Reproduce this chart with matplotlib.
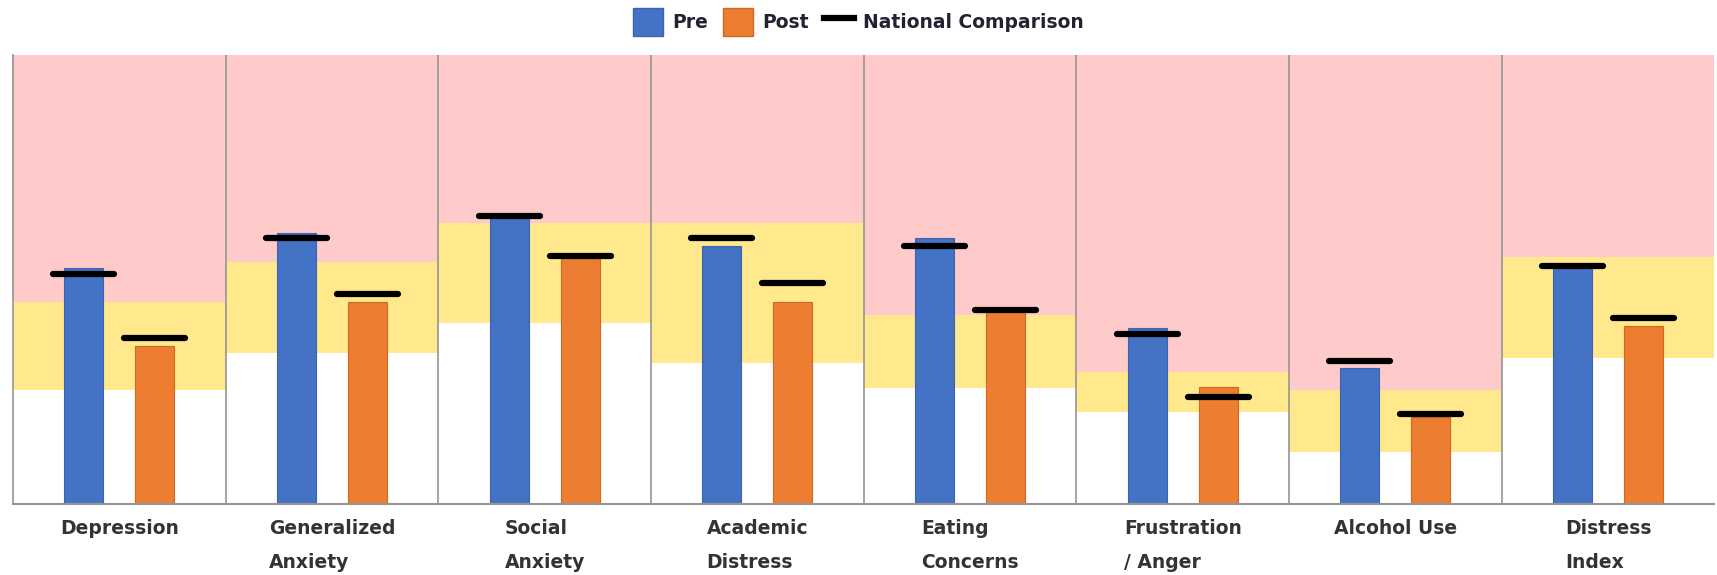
import matplotlib.pyplot as plt
import numpy as np
from matplotlib.patches import Patch
from matplotlib.lines import Line2D

# categories and values (0-100 scale)
categories = ['Depression', 'Generalized\nAnxiety', 'Social\nAnxiety', 'Academic\nDistress',
              'Eating\nConcerns', 'Frustration\n/ Anger', 'Alcohol Use', 'Distress\nIndex']
pre = [52.6, 60.3, 63.6, 57.4, 59.3, 39.3, 30.2, 52.6]
post = [35.3, 45.1, 54.9, 44.9, 42.7, 26.1, 19.4, 39.6]
national_pre = [51.2, 59.2, 64.2, 59.3, 57.4, 37.9, 31.9, 52.9]
national_post = [36.9, 46.7, 55.2, 49.3, 43.2, 23.9, 20.0, 41.4]
# threshold bands: top of white (low) zone, top of yellow (moderate) zone
low_top = [25.4, 33.6, 40.3, 31.3, 25.9, 20.5, 11.6, 32.6]
mod_top = [45.1, 54.0, 62.5, 62.5, 42.0, 29.3, 25.4, 55.1]
y_max = 100

blue = '#4472C4'
orange = '#ED7D31'
pink = '#FFCACA'
yellow = '#FFE98C'

fig = plt.figure(figsize=(17.17, 5.75), dpi=100)
ax = fig.add_axes([0.0075, 0.1235, 0.991, 0.7808])

x = np.arange(len(categories))
low_top = np.array(low_top)
mod_top = np.array(mod_top)

# background bands
ax.bar(x, low_top, width=1, color='white', zorder=0)
ax.bar(x, mod_top - low_top, bottom=low_top, width=1, color=yellow, zorder=0)
ax.bar(x, y_max - mod_top, bottom=mod_top, width=1, color=pink, zorder=0)

# separators
for xs in x[:-1] + 0.5:
    ax.axvline(xs, color='#959595', linewidth=1.2, zorder=1)

off = 0.167
bw = 0.183
ax.bar(x - off, pre, width=bw, color=blue, edgecolor='#3A64B0', linewidth=0.8, zorder=2)
ax.bar(x + off, post, width=bw, color=orange, edgecolor='#D0691F', linewidth=0.8, zorder=2)

half = 0.143
ax.hlines(national_pre, x - off - half, x - off + half, color='black', linewidth=4.5,
          capstyle='round', zorder=3)
ax.hlines(national_post, x + off - half, x + off + half, color='black', linewidth=4.5,
          capstyle='round', zorder=3)

ax.set_xlim(-0.5, len(categories) - 0.5)
ax.set_ylim(0, y_max)
ax.set_yticks([])
ax.set_xticks(x, categories)
ax.tick_params(axis='x', length=0, pad=11)
for t in ax.get_xticklabels():
    t.set_fontsize(13.5)
    t.set_fontweight('bold')
    t.set_color('#333333')
    t.set_multialignment('left')
    t.set_linespacing(1.95)

for s in ['top', 'right']:
    ax.spines[s].set_visible(False)
ax.spines['left'].set_color('#959595')
ax.spines['bottom'].set_color('#959595')
ax.spines['left'].set_linewidth(1.2)
ax.spines['bottom'].set_linewidth(1.5)

handles = [Patch(facecolor=blue, edgecolor='#3A64B0', label='Pre'),
           Patch(facecolor=orange, edgecolor='#D0691F', label='Post'),
           Line2D([0], [0], color='black', linewidth=4.5, label='National Comparison')]
fig.legend(handles=handles, loc='center', bbox_to_anchor=(0.5, 0.962), ncol=3,
           frameon=False, prop={'weight': 'bold', 'size': 13.5}, handlelength=1.6,
           handleheight=1.9, columnspacing=0.8, handletextpad=0.5, labelcolor='#222233')

fig.savefig('out.png', dpi=100)
